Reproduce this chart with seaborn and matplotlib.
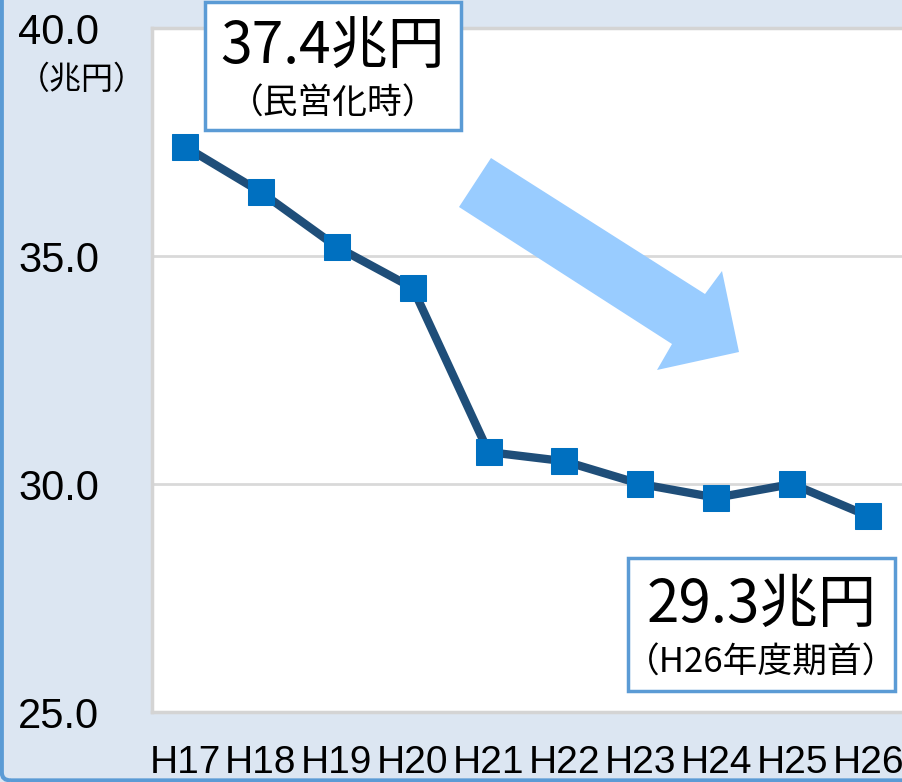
import matplotlib
matplotlib.use("Agg")
import matplotlib.pyplot as plt
import seaborn as sns
import pandas as pd
from matplotlib.patches import Polygon, FancyBboxPatch
from matplotlib import font_manager

years = ["H17", "H18", "H19", "H20", "H21", "H22", "H23", "H24", "H25", "H26"]
values = [37.4, 36.4, 35.2, 34.3, 30.7, 30.5, 30.0, 29.7, 30.0, 29.3]
yticks = [25.0, 30.0, 35.0, 40.0]
ytick_labels = ["25.0", "30.0", "35.0", "40.0"]

sns.set_theme(style="white")
plt.rcParams['font.family'] = ['Noto Sans CJK JP', 'DejaVu Sans']

names = {f.name for f in font_manager.fontManager.ttflist}
narrow = 'Liberation Sans Narrow' if 'Liberation Sans Narrow' in names else 'Liberation Sans'

W, H = 903, 782
fig = plt.figure(figsize=(W / 100, H / 100), dpi=100)
bg = '#dce6f2'
fig.patch.set_facecolor(bg)

# figure border
fig.patches.append(FancyBboxPatch((0.002, 0.002), 1.2, 1.2, boxstyle="round,pad=0,rounding_size=0.01",
                                  transform=fig.transFigure, fill=False, edgecolor='#5b9bd5', linewidth=3,
                                  zorder=0))

ax_l, ax_r, ax_t, ax_b = 152, 903, 28, 712
ax = fig.add_axes([ax_l / W, 1 - ax_b / H, (ax_r - ax_l) / W, (ax_b - ax_t) / H])
ax.set_facecolor('white')

df = pd.DataFrame({"x": range(len(years)), "y": values})
sns.lineplot(data=df, x="x", y="y", ax=ax, color='#1f4e79', linewidth=6,
             marker='s', markersize=19, markerfacecolor='#0070c0', markeredgecolor='#0070c0',
             zorder=5)

ax.set_ylim(25, 40)
ax.set_xlim(-0.435, 9.46)
ax.set_yticks(yticks)
ax.set_yticklabels(ytick_labels)
ax.set_xticks(range(len(years)))
ax.set_xticklabels(years)
ax.set_xlabel("")
ax.set_ylabel("")
for y in [30, 35]:
    ax.axhline(y, color='#d9d9d9', linewidth=2, zorder=1)

for s in ax.spines.values():
    s.set_color('#d4d4d4')
    s.set_linewidth(2.5)
ax.spines['right'].set_visible(False)

ax.tick_params(axis='both', length=0)
ax.tick_params(axis='y', pad=(ax_l - 18) * 0.72)
for lbl in ax.get_yticklabels():
    lbl.set_horizontalalignment('left')
    lbl.set_fontfamily(narrow)
    lbl.set_fontsize(30)
    lbl.set_color('black')
ax.tick_params(axis='x', pad=24)
for lbl in ax.get_xticklabels():
    lbl.set_fontfamily(narrow)
    lbl.set_fontsize(28)
    lbl.set_color('black')

# unit label
fig.text(82 / W, 1 - 80 / H, "（兆円）", ha='center', va='center', fontsize=23, color='black')

# arrow decoration
pts = [(491, 158), (705, 294), (722, 271), (739, 352), (657, 370), (672, 344), (459, 207)]
fig.patches.append(Polygon([(x / W, 1 - y / H) for x, y in pts], closed=True,
                           transform=fig.transFigure, facecolor='#99ccff', edgecolor='none', zorder=3))

# annotation boxes
def box(x0, y0, x1, y1, big, small, ybig, ysmall, fb, fs):
    fig.patches.append(FancyBboxPatch((x0 / W, 1 - y1 / H), (x1 - x0) / W, (y1 - y0) / H,
                                      boxstyle="square,pad=0", transform=fig.transFigure,
                                      facecolor='white', edgecolor='#5b9bd5', linewidth=2.5, zorder=6))
    cx = (x0 + x1) / 2 / W
    fig.text(cx, 1 - ybig / H, big, ha='center', va='center', fontsize=fb, color='black', zorder=7)
    fig.text(cx, 1 - ysmall / H, small, ha='center', va='center', fontsize=fs, color='black', zorder=7)

box(205, 2, 461, 130, "37.4兆円", "（民営化時）", 48, 104, 41, 25)
box(628, 558, 895, 691, "29.3兆円", "（H26年度期首）", 605, 663, 42, 25)

fig.savefig("out.png", dpi=100, facecolor=fig.get_facecolor())
